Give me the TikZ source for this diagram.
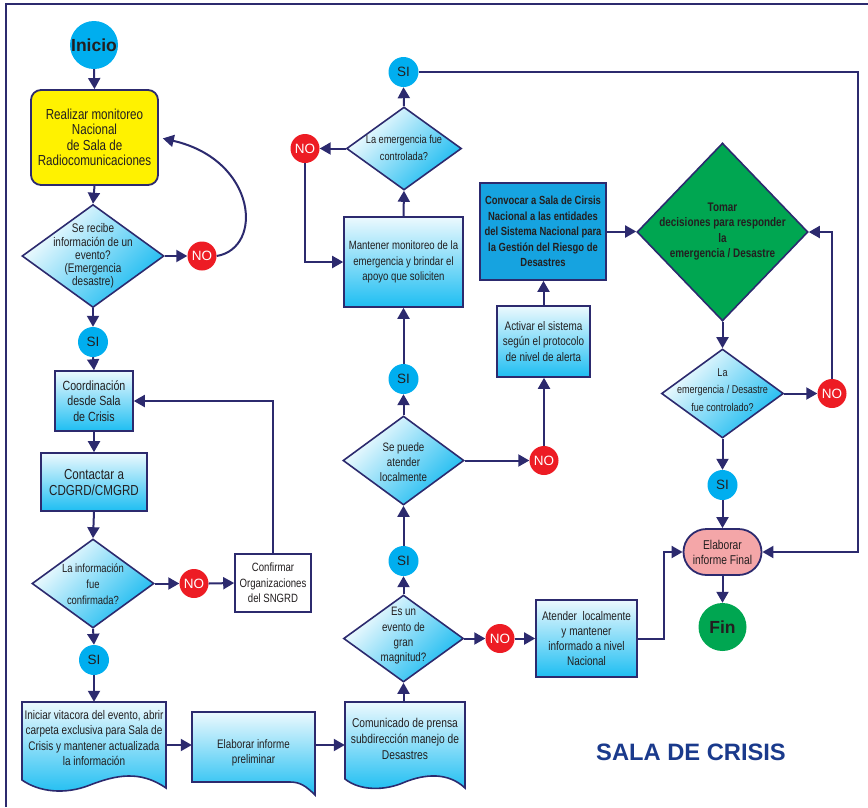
\documentclass[tikz,border=0pt]{standalone}
\usepackage{fontspec}
\setmainfont{Liberation Sans}[FakeStretch=0.8]
\newfontfamily\widefont{Liberation Sans}
\usetikzlibrary{arrows.meta,shapes.geometric,calc}
\definecolor{navy}{RGB}{44,42,110}
\definecolor{cyanC}{RGB}{0,174,239}
\definecolor{redC}{RGB}{237,28,36}
\definecolor{yel}{RGB}{255,242,0}
\definecolor{grn}{RGB}{0,166,81}
\definecolor{pinkC}{RGB}{244,166,168}
\definecolor{convC}{RGB}{22,163,224}
\definecolor{gtop}{RGB}{236,249,254}
\definecolor{gbot}{RGB}{30,190,242}
\definecolor{dbot}{RGB}{20,185,240}
\definecolor{ttl}{RGB}{26,58,140}
\definecolor{ink}{RGB}{35,31,32}
\tikzset{
  ln/.style={draw=navy, line width=2pt},
  arr/.style={ln, -{Triangle[length=11pt,width=12pt]}},
  t/.style={align=center, text=ink, inner sep=0pt},
  fsl/.style 2 args={font=\fontsize{#1}{#2}\selectfont},
  fb/.style 2 args={font=\bfseries\fontsize{#1}{#2}\selectfont},
  circ/.style={circle, inner sep=0pt, minimum size=30pt, font=\widefont\fontsize{13.5}{14}\selectfont},
  sinode/.style={circ, fill=cyanC, text=ink},
  nonode/.style={circ, fill=redC, text=white, minimum size=29pt},
  gbox/.style={rectangle, draw=navy, line width=1.6pt, top color=gtop, bottom color=gbot, inner sep=0pt, align=center, text=ink},
  gdia/.style={diamond, draw=navy, line width=1.6pt, inner sep=0pt, top color=white, bottom color=dbot, shading angle=45},
  dshade/.style={draw=navy, line width=1.6pt, top color=gtop, bottom color=gbot},
  hold/.style={rectangle, inner sep=0pt},
}
\begin{document}
\begin{tikzpicture}[x=1pt,y=-1pt]
\useasboundingbox (0,0) rectangle (868,807);
\draw[navy, line width=1.6pt] (6,807) -- (6,4) -- (868,4);

% left column
\node[circ, fill=cyanC, minimum size=48pt, font=\widefont\bfseries\fontsize{17.5}{17.5}\selectfont, text=ink] (ini) at (94,45) {Inicio};
\node[rectangle, rounded corners=10pt, draw=navy, line width=1.8pt, fill=yel, minimum width=127pt, minimum height=95pt, align=center, inner sep=0pt, text=ink, fsl={14.5}{15.5}] (mon) at (94.5,137.5) {Realizar monitoreo\\Nacional\\de Sala de\\Radiocomunicaciones};
\node[gdia, minimum width=142pt, minimum height=103pt] (d1) at (93,256) {};
\node[t, fsl={12.5}{13.2}] at (93,256) {Se recibe\\información de un\\evento?\\(Emergencia\\desastre)};
\node[nonode] (no1) at (202,256) {NO};
\node[sinode] (si1) at (93,342) {SI};
\node[gbox, minimum width=78pt, minimum height=60pt, fsl={13.3}{15.3}] (coord) at (94,401) {Coordinación\\desde Sala\\de Crisis};
\node[gbox, minimum width=106pt, minimum height=58pt, fsl={14.5}{16}] (cont) at (94,482) {Contactar a\\CDGRD/CMGRD};
\node[gdia, minimum width=122pt, minimum height=89pt] (d2) at (93,583.5) {};
\node[t, fsl={11.8}{16}] at (93,584) {La información\\fue\\confirmada?};
\node[nonode] (no2) at (194,583.5) {NO};
\node[rectangle, draw=navy, line width=1.6pt, fill=white, minimum width=76pt, minimum height=58pt, align=center, inner sep=0pt, text=ink, fsl={12}{15.5}] (conf) at (273,583) {Confirmar\\Organizaciones\\del SNGRD};
\node[sinode] (si2) at (94,660) {SI};

% document shapes
\path[dshade] (22,702) -- (166,702) -- (166,788) .. controls (140,770) and (116,775) .. (90,785) .. controls (65,795) and (39,792) .. (22,780) -- cycle;
\node[hold, minimum width=144pt, minimum height=86pt] (inic) at (94,745) {};
\node[t, fsl={12.5}{15.3}] at (94,738) {Iniciar vitacora del evento, abrir\\carpeta exclusiva para Sala de\\Crisis y mantener actualizada\\la información};

\path[dshade] (192,712) -- (315,712) -- (315,795) .. controls (306,786) and (300,782) .. (290,782) -- (192,782) -- cycle;
\node[hold, minimum width=123pt, minimum height=70pt] (prel) at (253.5,745) {};
\node[t, fsl={12.3}{15.5}] at (253.5,753) {Elaborar informe\\preliminar};

\path[dshade] (345,702) -- (465,702) -- (465,788) .. controls (448,772) and (425,774) .. (405,782) .. controls (385,791) and (360,791) .. (345,779) -- cycle;
\node[hold, minimum width=120pt, minimum height=86pt] (com) at (405,745) {};
\node[t, fsl={12.8}{16}] at (405,739) {Comunicado de prensa\\subdirección manejo de\\Desastres};

% middle column
\node[gdia, minimum width=120pt, minimum height=87pt] (d3) at (403.5,638.5) {};
\node[t, fsl={12.2}{15.3}] at (403.5,636) {Es un\\evento de\\gran\\magnitud?};
\node[sinode] (si3) at (403.5,561) {SI};
\node[gdia, minimum width=121pt, minimum height=89pt] (d4) at (403.5,460.5) {};
\node[t, fsl={12.2}{15.2}] at (403.5,462) {Se puede\\atender\\localmente};
\node[nonode] (no4) at (544,460.5) {NO};
\node[gbox, minimum width=93pt, minimum height=71pt, fsl={12.4}{15.5}] (act) at (543.5,341.5) {Activar el sistema\\según el protocolo\\de nivel de alerta};
\node[rectangle, draw=navy, line width=1.8pt, fill=convC, minimum width=126pt, minimum height=97pt, align=center, inner sep=0pt, text=ink, fb={11.8}{15.4}] (conv) at (543,231.5) {Convocar a Sala de Cirsis\\Nacional a las entidades\\del Sistema Nacional para\\la Gestión del Riesgo de\\Desastres};
\node[sinode] (si4) at (403.5,379) {SI};
\node[gbox, minimum width=119pt, minimum height=90pt, fsl={12}{15.8}] (mant) at (403.5,262) {Mantener monitoreo de la\\emergencia y brindar el\\apoyo que soliciten};
\node[gdia, minimum width=115pt, minimum height=83pt] (d6) at (404,148.5) {};
\node[t, fsl={11.5}{16.5}] at (404,148) {La emergencia fue\\controlada?};
\node[sinode] (si6) at (403.5,72) {SI};
\node[nonode] (no6) at (305,148.5) {NO};
\node[nonode] (no3) at (500,638.5) {NO};
\node[gbox, minimum width=101pt, minimum height=77pt, fsl={12.5}{15.3}] (aten) at (586.5,638.5) {Atender\ \ localmente\\y mantener\\informado a nivel\\Nacional};

% right column
\node[diamond, draw=navy, line width=1.6pt, fill=grn, minimum width=171pt, minimum height=178pt, inner sep=0pt] (gd) at (722.5,232) {};
\node[t, fb={12.4}{15.6}] at (722.5,231.5) {Tomar\\decisiones para responder\\la\\emergencia / Desastre};
\node[gdia, minimum width=122pt, minimum height=89pt] (d5) at (722.5,393.5) {};
\node[t, fsl={11.3}{17.5}] at (722.5,390) {La\\emergencia / Desastre\\fue controlado?};
\node[nonode] (no5) at (832,393.5) {NO};
\node[sinode] (si5) at (722.5,485) {SI};
\node[draw=navy, line width=1.8pt, fill=pinkC, rounded corners=23pt, minimum width=78pt, minimum height=46pt, inner sep=0pt, align=center, text=ink, fsl={12.8}{15}] (rep) at (722.5,552) {Elaborar\\informe Final};
\node[circ, fill=grn, minimum size=48pt, font=\widefont\bfseries\fontsize{17.5}{17.5}\selectfont, text=ink] (fin) at (722.5,627) {Fin};
\coordinate (rt) at (858,552);

\node[font=\widefont\bfseries\fontsize{23.7}{24}\selectfont, text=ttl] (title) at (691,752) {SALA DE CRISIS};

% connectors
\draw[arr] (ini.south) -- (mon.north);
\draw[arr] (mon.south) -- (d1.north);
\draw[arr] (d1.east) -- (no1.west);
\draw[arr, shorten >=4pt] (no1.east) .. controls (264,248) and (257,160) .. (mon.east);
\draw[arr] (d1.south) -- (si1.north);
\draw[arr] (si1.south) -- (coord.north);
\draw[arr] (coord.south) -- (cont.north);
\draw[arr] (cont.south) -- (d2.north);
\draw[arr] (d2.east) -- (no2.west);
\draw[arr] (no2.east) -- (conf.west);
\draw[arr] (conf.north) |- (coord.east);
\draw[arr] (d2.south) -- (si2.north);
\draw[arr] (si2.south) -- (inic.north);
\draw[arr] (inic.east) -- (inic.east -| prel.west);
\draw[arr] (prel.east) -- (prel.east -| com.west);
\draw[arr] (d3.south |- com.north) -- (d3.south);
\draw[arr] (d3.north) -- (si3.south);
\draw[arr] (si3.north) -- (d4.south);
\draw[arr] (d4.east) -- (no4.west);
\draw[arr] (no4.north) -- (no4.north |- act.south);
\draw[arr] (act.north) -- (act.north |- conv.south);
\draw[arr] (conv.east) -- (conv.east -| gd.west);
\draw[arr] (gd.south) -- (d5.north);
\draw[arr] (d5.east) -- (no5.west);
\draw[arr] (no5.north) |- (gd.east);
\draw[arr] (d5.south) -- (si5.north);
\draw[arr] (si5.south) -- (rep.north);
\draw[arr] (rep.south) -- (fin.north);
\draw[arr] (d3.east) -- (no3.west);
\draw[arr] (no3.east) -- (no3.east -| aten.west);
\draw[arr] (aten.east) -- ++(26,0) |- (rep.west);
\draw[arr] (d4.north) -- (si4.south);
\draw[arr] (si4.north) -- (mant.south);
\draw[arr] (mant.north) -- (d6.south);
\draw[arr] (d6.north) -- (si6.south);
\draw[arr] (si6.east) -| (rt) -- (rep.east);
\draw[arr] (d6.west) -- (no6.east);
\draw[arr] (no6.south) |- (mant.west);
\end{tikzpicture}
\end{document}
